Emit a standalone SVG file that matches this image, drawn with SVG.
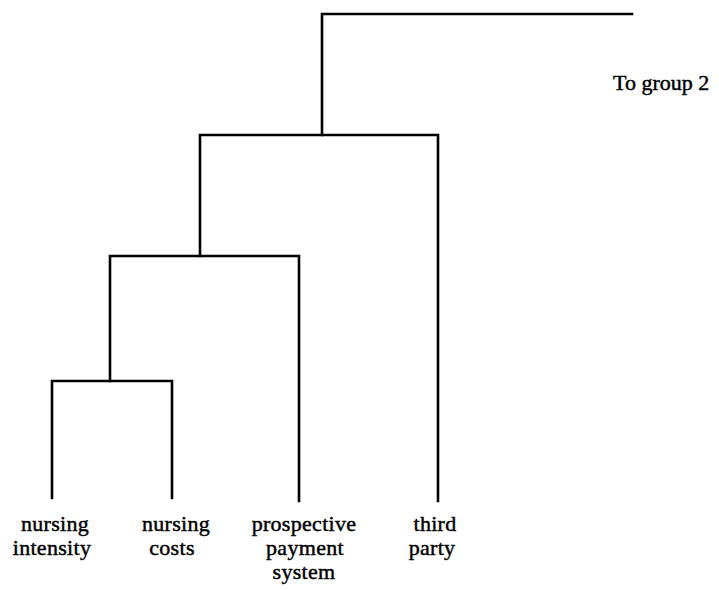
<svg xmlns="http://www.w3.org/2000/svg" width="719" height="590" viewBox="0 0 719 590">
  <style>
    .link { fill: none; stroke: #000; stroke-width: 2.6; stroke-linecap: square; stroke-linejoin: miter; }
    .label { font-family: "Liberation Serif", "Times New Roman", serif; font-size: 22px; fill: #000; stroke: #000; stroke-width: 0.45; }
    .leaf { text-anchor: middle; letter-spacing: 0.3px; }
  </style>
  <rect width="719" height="590" fill="#fff"/>

  <!-- dendrogram branches -->
  <g id="connectors">
    <!-- root link out to group 2 -->
    <path class="link" d="M632,14 H322 V135"/>
    <!-- level 2: (ABC) + third party -->
    <path class="link" d="M200,256 V135 H438 V501"/>
    <!-- level 3: (AB) + prospective payment system -->
    <path class="link" d="M110,381 V256 H299 V501"/>
    <!-- level 4: nursing intensity + nursing costs -->
    <path class="link" d="M52,498 V381 H172 V498"/>
  </g>

  <g id="group2-label">
    <text class="label" x="613" y="90">To group 2</text>
  </g>

  <g id="nursing-intensity">
    <text class="label leaf" x="55" y="531">nursing</text>
    <text class="label leaf" x="52" y="555">intensity</text>
  </g>

  <g id="nursing-costs">
    <text class="label leaf" x="176" y="531">nursing</text>
    <text class="label leaf" x="172" y="555">costs</text>
  </g>

  <g id="prospective-payment-system">
    <text class="label leaf" x="304" y="531">prospective</text>
    <text class="label leaf" x="305" y="555">payment</text>
    <text class="label leaf" x="304" y="579">system</text>
  </g>

  <g id="third-party">
    <text class="label leaf" x="435" y="531">third</text>
    <text class="label leaf" x="432" y="555">party</text>
  </g>
</svg>
